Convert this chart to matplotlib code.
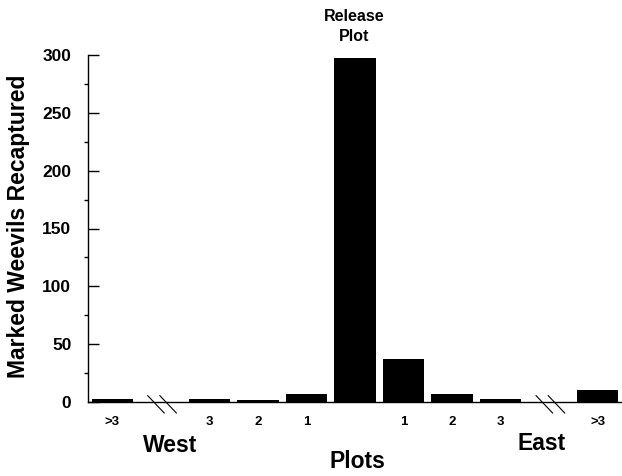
import matplotlib
matplotlib.use("Agg")
import matplotlib.pyplot as plt
from matplotlib.ticker import MultipleLocator

plt.rcParams['font.family'] = ['Liberation Sans', 'DejaVu Sans']

# Data
tick_labels = [">3", "", "3", "2", "1", "", "1", "2", "3", "", ">3"]
values = [3, None, 3, 2, 7, 297, 37, 7, 3, None, 10]
break_slots = [1, 9]
y_ticks = [0, 50, 100, 150, 200, 250, 300]

W, H = 622, 476
fig = plt.figure(figsize=(W / 100, H / 100), dpi=100)
ax = fig.add_axes([88 / W, (H - 402) / H, (W - 88) / W, (402 - 55) / H])

xs = [i for i, v in enumerate(values) if v is not None]
vs = [v for v in values if v is not None]
ax.bar(xs, vs, width=0.85, color="black", zorder=2)

ax.set_xlim(-0.5, len(values) - 0.5)
ax.set_ylim(0, 300)
ax.set_xticks(range(len(values)))
ax.set_xticklabels(tick_labels, fontsize=9.5, fontweight="bold")
ax.tick_params(axis="x", length=0, pad=10)
ax.set_yticks(y_ticks)
ax.set_yticklabels([str(t) for t in y_ticks], fontsize=12.5, fontweight="bold")
ax.yaxis.set_minor_locator(MultipleLocator(25))
ax.tick_params(axis="y", which="major", direction="in", length=8, width=1, pad=12)
ax.tick_params(axis="y", which="minor", direction="out", length=3, width=1)
ax.spines["top"].set_visible(False)
ax.spines["right"].set_visible(False)
for s in ("left", "bottom"):
    ax.spines[s].set_linewidth(1)

# break marks
for b in break_slots:
    for dx in (-0.1, 0.15):
        ax.plot([b - 0.17 + dx, b + 0.17 + dx], [5.5, -9.5], color="black",
                lw=0.8, clip_on=False, zorder=3)

def px(x, y):
    return x / W, (H - y) / H

fig.text(*px(354, 26.5), "Release\nPlot", ha="center", va="center",
         fontsize=11.5, fontweight="bold", linespacing=1.35)
fig.text(*px(170, 445), "West", ha="center", va="center", fontsize=16.5, fontweight="bold")
fig.text(*px(542, 444), "East", ha="center", va="center", fontsize=16.5, fontweight="bold")
fig.text(*px(357, 461), "Plots", ha="center", va="center", fontsize=16.5, fontweight="bold")
fig.text(*px(19, 226), "Marked Weevils Recaptured", ha="center", va="center",
         rotation=90, fontsize=16.5, fontweight="bold")

fig.savefig("out.png", dpi=100)
